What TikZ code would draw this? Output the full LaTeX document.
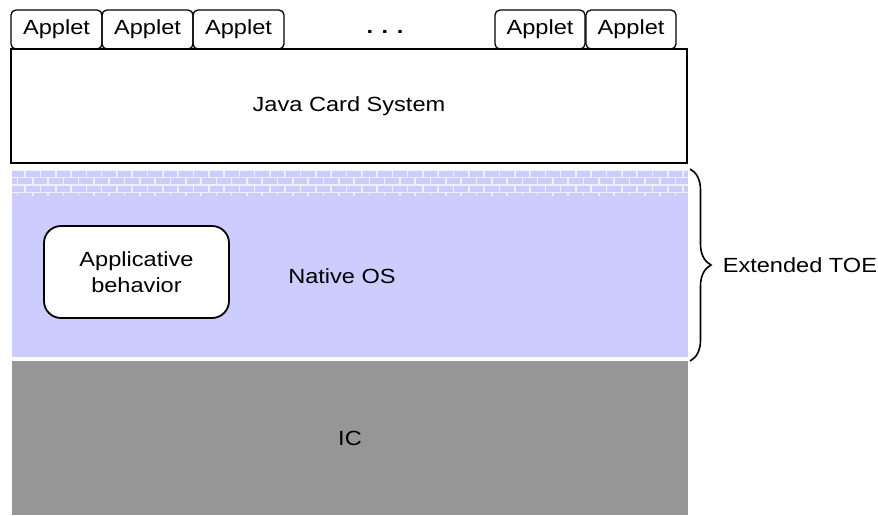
\documentclass[tikz,border=0pt]{standalone}
\usepackage{fontspec}
\setmainfont{Liberation Sans}[FakeStretch=1.15]
\usepackage{xcolor}
\usepackage{tikz}
\usetikzlibrary{positioning, decorations.pathreplacing}
\definecolor{nativeblue}{HTML}{CCCCFF}
\definecolor{mortar}{HTML}{F0F0FC}
\definecolor{icgray}{HTML}{969696}

\begin{document}
\begin{tikzpicture}[x=1pt, y=-1pt, font=\fontsize{20.5}{26}\selectfont,
    applet/.style={rectangle, draw, rounded corners=5pt, line width=1.3pt, minimum width=91pt, minimum height=39pt, inner sep=0pt, outer sep=0pt},
    layer/.style={rectangle, minimum width=676pt, inner sep=0pt, outer sep=0pt, anchor=north west}]
    \useasboundingbox (0,0) rectangle (878,515);

    % applets on top of the card system
    \node[applet] (ap1) at (56.5,29.5) {Applet};
    \node[applet, right=0pt of ap1] (ap2) {Applet};
    \node[applet, right=0pt of ap2] (ap3) {Applet};
    \node[applet, minimum width=90pt] (ap4) at (540,29.5) {Applet};
    \node[applet, minimum width=90pt, right=1pt of ap4] (ap5) {Applet};
    \node[inner sep=0pt] (dots) at (385,32) {\textbf{.\hspace{8.5pt}.\hspace{8.5pt}.}};

    % layers
    \node[layer, draw, line width=1.6pt, minimum height=114pt] (jcs) at (11,49) {Java Card System};
    \node[layer, fill=nativeblue, minimum height=187pt] (oslayer) at (12,170) {};
    \node[layer, fill=icgray, minimum height=154pt] (ic) at (12,361) {IC};

    % brick wall between the card system and the native OS
    \begin{scope}
        \clip (12,169.5) rectangle (688,196);
        \foreach \y in {170.4, 177.4, 184.8, 192.4}
            \draw[mortar, line width=1.6pt] (12,\y) -- (688,\y);
        \foreach \k in {0,...,44} {
            \draw[mortar, line width=1.6pt] ({25.1+15.3*\k},170) -- ++(0,8);
            \draw[mortar, line width=1.6pt] ({17.4+15.3*\k},177) -- ++(0,8);
            \draw[mortar, line width=1.6pt] ({25.1+15.3*\k},184.5) -- ++(0,8);
            \draw[mortar, line width=1.6pt] ({17.4+15.3*\k},192) -- ++(0,4);
        }
    \end{scope}

    \node (native) at (342,276) {Native OS};
    \node[rectangle, draw, fill=white, rounded corners=17pt, line width=1.8pt, minimum width=185pt, minimum height=92pt, align=center] (appbeh) at (136.5,272) {Applicative\\behavior};

    % extended TOE brace
    \coordinate (toetop) at (690,169);
    \coordinate (toebot) at (690,361);
    \draw[decorate, decoration={brace, amplitude=21pt}, line width=1.6pt] (toetop) -- (toebot)
        node[midway, right=32pt, inner sep=0pt] (toe) {Extended TOE};
\end{tikzpicture}
\end{document}
